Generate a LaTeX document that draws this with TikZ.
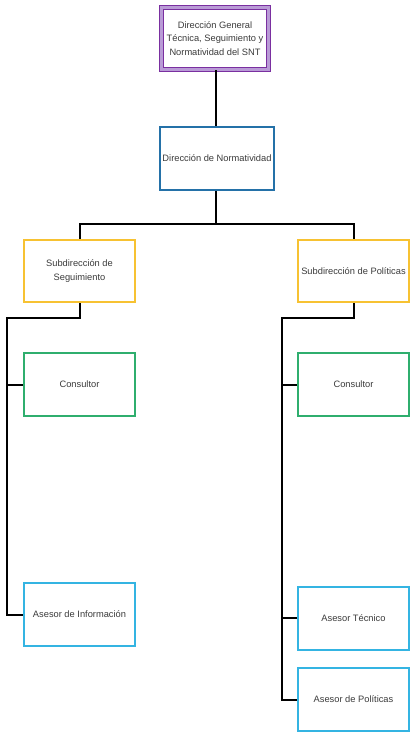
\documentclass[tikz,border=0pt]{standalone}
\usepackage{fontspec}
\setmainfont{Liberation Sans}
\definecolor{cpurple}{HTML}{7A2FA0}
\definecolor{clav}{HTML}{B99BD6}
\definecolor{cblue}{HTML}{2471A8}
\definecolor{cgold}{HTML}{F7C232}
\definecolor{cgreen}{HTML}{2FAE6E}
\definecolor{ccyan}{HTML}{34B4E2}
\definecolor{ctext}{HTML}{3A3A3A}
\begin{document}
\begin{tikzpicture}[x=1pt,y=1pt,
  box/.style={draw, line width=2pt, minimum width=111pt, minimum height=62pt, inner sep=1pt,
    align=center, text=ctext, font=\fontsize{9.3}{13.5}\selectfont},
  link/.style={draw=black, line width=2pt}]
\useasboundingbox (0,0) rectangle (410,-733);
\node[box, draw=cpurple, line width=1.3pt, double=clav, double distance=2.4pt,
  minimum width=107pt, minimum height=62pt] (top) at (215,-38.5)
  {Dirección General\\Técnica, Seguimiento y\\Normatividad del SNT};
\node[box, draw=cblue, minimum width=114pt, minimum height=63pt] (dn) at (217,-158.5) {Dirección de Normatividad};
\node[box, draw=cgold] (sl) at (79.5,-271) {Subdirección de\\Seguimiento};
\node[box, draw=cgold] (sr) at (353.5,-271) {Subdirección de Políticas};
\node[box, draw=cgreen, minimum height=63pt] (cl) at (79.5,-384.5) {Consultor};
\node[box, draw=cgreen, minimum height=63pt] (cr) at (353.5,-384.5) {Consultor};
\node[box, draw=ccyan, minimum height=63pt] (ai) at (79.5,-614.5) {Asesor de Información};
\node[box, draw=ccyan, minimum height=63pt] (at) at (353.5,-618) {Asesor Técnico};
\node[box, draw=ccyan, minimum height=63pt] (ap) at (353.5,-699.5) {Asesor de Políticas};
\coordinate (bus) at (216,-224);
\coordinate (lrail) at (7,-318);
\coordinate (rrail) at (282,-318);
\draw[link] (top.south -| bus) -- (dn.north -| bus);
\draw[link] (dn.south -| bus) -- (bus);
\draw[link] (bus) -| (sl.north);
\draw[link] (bus) -| (sr.north);
\draw[link] (sl.south) |- (lrail) |- (ai.west);
\draw[link] (cl.west) -- (cl.west -| lrail);
\draw[link] (sr.south) |- (rrail) |- (ap.west);
\draw[link] (cr.west) -- (cr.west -| rrail);
\draw[link] (at.west) -- (at.west -| rrail);
\end{tikzpicture}
\end{document}
